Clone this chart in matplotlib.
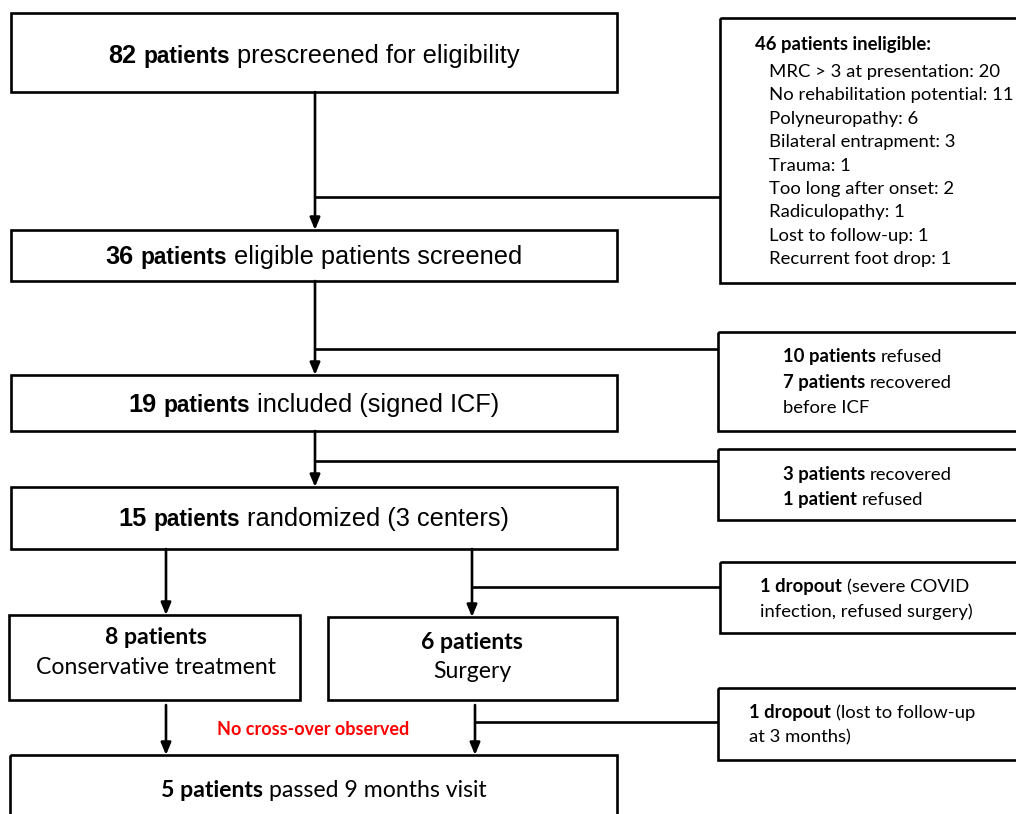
import matplotlib
matplotlib.use("Agg")
import matplotlib.pyplot as plt
from matplotlib.patches import Rectangle

# ---- data ----
prescreened = 82
eligible = 36
included = 19
randomized = 15
n_conservative = 8
n_surgery = 6
n_passed9 = 5
ineligible_total = 46
ineligible_reasons = ["MRC > 3 at presentation", "No rehabilitation potential", "Polyneuropathy",
                      "Bilateral entrapment", "Trauma", "Too long after onset", "Radiculopathy",
                      "Lost to follow-up", "Recurrent foot drop"]
ineligible_counts = [20, 11, 6, 3, 1, 2, 1, 1, 1]
refused_before_icf = 10
recovered_before_icf = 7
recovered_after_icf = 3
refused_after_icf = 1
dropout_surgery = 1
dropout_followup = 1

ARIAL = ["Liberation Sans", "DejaVu Sans"]
CAL = ["Lato", "DejaVu Sans"]

fig = plt.figure(figsize=(10.16, 8.14), dpi=100)
ax = fig.add_axes([0, 0, 1, 1])
ax.set_xlim(0, 1016)
ax.set_ylim(814, 0)
ax.axis("off")
renderer = fig.canvas.get_renderer()

LW = 1.9
SIDE = 13.3
LOW = 16.6
TOP = 18.3
TOPB = 16.3


def width(s, fam, size, bold):
    t = ax.text(0, 0, s, family=fam, size=size, weight="bold" if bold else "normal")
    w = t.get_window_extent(renderer).width
    t.remove()
    return w


def runs_text(x, y, runs, ha="center", fam=CAL, size=12, color="black"):
    # runs: (text, bold) or (text, bold, size)
    rr = [(r[0], r[1], r[2] if len(r) > 2 else size) for r in runs]
    ws = [width(s, fam, sz, b) for s, b, sz in rr]
    sp = width("x x", fam, size, False) - width("xx", fam, size, False)
    total = sum(ws) + sp * (len(rr) - 1)
    x0 = x - total / 2 if ha == "center" else x
    for (s, b, sz), w in zip(rr, ws):
        ax.text(x0, y, s, ha="left", va="baseline", family=fam,
                size=sz, weight="bold" if b else "normal", color=color)
        x0 += w + sp


def box(x0, y0, x1, y1):
    ax.add_patch(Rectangle((x0, y0), x1 - x0, y1 - y0, fill=False, ec="black", lw=LW))


def line(xs, ys):
    ax.plot(xs, ys, color="black", lw=LW, solid_capstyle="butt")


def arrow(x, y0, y1):
    ax.annotate("", xy=(x, y1), xytext=(x, y0),
                arrowprops=dict(arrowstyle="-|>,head_length=0.6,head_width=0.25",
                                color="black", lw=LW, shrinkA=0, shrinkB=0, mutation_scale=12))


# ---- main column ----
box(11, 13, 617, 92)
runs_text(314, 63, [(str(prescreened), True, TOP), ("patients", True, TOPB), ("prescreened for eligibility", False)],
          fam=ARIAL, size=TOP)
box(11, 230, 617, 281)
runs_text(314, 264, [(str(eligible), True, TOP), ("patients", True, TOPB), ("eligible patients screened", False)],
          fam=ARIAL, size=TOP)
box(11, 375, 617, 431)
runs_text(314, 412, [(str(included), True, TOP), ("patients", True, TOPB), ("included (signed ICF)", False)],
          fam=ARIAL, size=TOP)
box(11, 487, 617, 549)
runs_text(314, 526, [(str(randomized), True, TOP), ("patients", True, TOPB), ("randomized (3 centers)", False)],
          fam=ARIAL, size=TOP)

box(9, 615, 300, 700)
runs_text(156, 644, [(f"{n_conservative} patients", True)], size=LOW)
runs_text(156, 674, [("Conservative treatment", False)], size=LOW)
box(328, 617, 617, 700)
runs_text(472, 649, [(f"{n_surgery} patients", True)], size=LOW)
runs_text(472, 678, [("Surgery", False)], size=LOW)

box(10, 755, 617, 830)
runs_text(324, 797, [(f"{n_passed9} patients", True), ("passed 9 months visit", False)], size=LOW)

runs_text(313, 735, [("No cross-over observed", True)], size=13.0, color="#ff0000")

# ---- connectors ----
arrow(315, 92, 230)
line([315, 720], [197, 197])
arrow(315, 281, 375)
line([315, 718], [349, 349])
arrow(315, 431, 487)
line([315, 718], [461, 461])
arrow(166, 549, 615)
arrow(472, 549, 617)
line([472, 720], [587, 587])
arrow(166, 705, 755)
arrow(475, 705, 755)
line([475, 718], [722, 722])

# ---- side boxes ----
box(720, 18, 1030, 283)
runs_text(755, 50, [(f"{ineligible_total} patients ineligible:", True)], ha="left", size=SIDE)
for i, (r, c) in enumerate(zip(ineligible_reasons, ineligible_counts)):
    runs_text(769, 77 + i * 23.4, [(f"{r}: {c}", False)], ha="left", size=SIDE)

box(718, 332, 1030, 431)
runs_text(783, 362, [(f"{refused_before_icf} patients", True), ("refused", False)], ha="left", size=SIDE)
runs_text(783, 388, [(f"{recovered_before_icf} patients", True), ("recovered", False)], ha="left", size=SIDE)
runs_text(783, 413, [("before ICF", False)], ha="left", size=SIDE)

box(718, 449, 1030, 520)
runs_text(783, 480, [(f"{recovered_after_icf} patients", True), ("recovered", False)], ha="left", size=SIDE)
runs_text(783, 505, [(f"{refused_after_icf} patient", True), ("refused", False)], ha="left", size=SIDE)

box(720, 562, 1030, 633)
runs_text(760, 592, [(f"{dropout_surgery} dropout", True), ("(severe COVID", False)], ha="left", size=SIDE)
runs_text(760, 617, [("infection, refused surgery)", False)], ha="left", size=SIDE)

box(718, 688, 1030, 760)
runs_text(749, 718, [(f"{dropout_followup} dropout", True), ("(lost to follow-up", False)], ha="left", size=SIDE)
runs_text(749, 742, [("at 3 months)", False)], ha="left", size=SIDE)

fig.savefig("out.png", dpi=100)
